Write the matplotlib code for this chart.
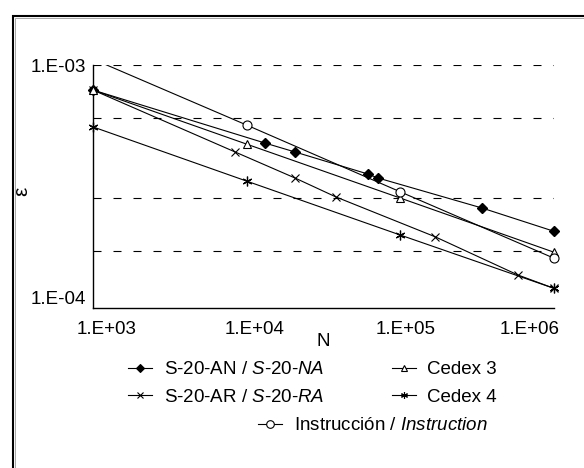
import matplotlib
matplotlib.use('Agg')
import matplotlib.pyplot as plt
import matplotlib.transforms as mtransforms
from matplotlib.lines import Line2D
from matplotlib.patches import Rectangle

plt.rcParams['font.family'] = ['Liberation Sans', 'DejaVu Sans']
plt.rcParams['mathtext.fontset'] = 'custom'
plt.rcParams['mathtext.rm'] = 'Liberation Sans'
plt.rcParams['mathtext.it'] = 'Liberation Sans:italic'

# values
an_N = [1e3, 13150, 20600, 61500, 71400, 339600, 1.0e6]
an_eps = [7.80e-4, 4.61e-4, 4.22e-4, 3.39e-4, 3.26e-4, 2.42e-4, 1.92e-4]

ar_N = [1e3, 8400, 20600, 38100, 168000, 582000, 1.0e6]
ar_eps = [7.80e-4, 4.22e-4, 3.26e-4, 2.70e-4, 1.82e-4, 1.245e-4, 1.09e-4]

c3_N = [1e3, 1e4, 1e5, 1e6]
c3_eps = [7.80e-4, 4.56e-4, 2.67e-4, 1.56e-4]

c4_N = [1e3, 1e4, 1e5, 1e6]
c4_eps = [5.41e-4, 3.16e-4, 1.85e-4, 1.09e-4]

ins_N = [1e3, 1e4, 1e5, 1e6]
ins_eps = [1.06e-3, 5.51e-4, 2.84e-4, 1.47e-4]

grid_levels = [1e-3, 5.91e-4, 2.67e-4, 1.58e-4]

x_ticks = [1e3, 1e4, 1e5, 1e6]
x_labels = ['1.E+03', '1.E+04', '1.E+05', '1.E+06']
y_ticks = [1e-3, 1e-4]
y_labels = ['1.E-03', '1.E-04']

labels = ['S-20-AN / $\\mathit{S}$-$\\mathit{20}$-$\\mathit{NA}$',
          'S-20-AR / $\\mathit{S}$-$\\mathit{20}$-$\\mathit{RA}$',
          'Cedex 3', 'Cedex 4',
          'Instrucción / $\\mathit{Instruction}$']

W, H = 584, 468
fig = plt.figure(figsize=(W / 100, H / 100), dpi=100)
ax = fig.add_axes([93 / W, 1 - 308 / H, (554 - 93) / W, (308 - 65) / H])
ax.set_xscale('log')
ax.set_yscale('log')
ax.set_xlim(1e3, 1e6)
ax.set_ylim(8.97e-5, 1e-3)

for g in grid_levels:
    ax.axhline(g, color='black', lw=0.8, ls=(0, (7.2, 10.8)), zorder=1)

lw = 0.8
ax.plot(an_N, an_eps, color='black', lw=lw, marker='D', ms=5, mfc='black', clip_on=False, zorder=3)
ax.plot(ar_N, ar_eps, color='black', lw=lw, marker='x', ms=6, mew=0.8, clip_on=False, zorder=3)
ax.plot(c3_N, c3_eps, color='black', lw=lw, marker='^', ms=6, mfc='white', mew=0.8, clip_on=False, zorder=3)
ax.plot(c4_N, c4_eps, color='black', lw=lw, marker=(6, 2, 0), ms=7, mew=0.9, clip_on=False, zorder=3)
ax.plot(ins_N, ins_eps, color='black', lw=lw, zorder=3)
ax.plot(ins_N[1:], ins_eps[1:], ls='none', marker='o', ms=6.5, mfc='white', mec='black', mew=0.8,
        clip_on=False, zorder=4)

ax.xaxis.set_major_locator(plt.FixedLocator(x_ticks))
ax.xaxis.set_minor_locator(plt.NullLocator())
ax.set_xticklabels(x_labels)
ax.yaxis.set_major_locator(plt.FixedLocator(y_ticks))
ax.yaxis.set_minor_locator(plt.NullLocator())
ax.set_yticklabels(y_labels)
ax.tick_params(axis='both', length=0, labelsize=13.5, colors='black')
ax.tick_params(axis='x', pad=9)
ax.tick_params(axis='y', pad=5)

# tick labels sit a little off their ticks in the original
x_shift = [14, 8, 5, -24]
for lab, dx in zip(ax.get_xticklabels(), x_shift):
    lab.set_transform(lab.get_transform() + mtransforms.ScaledTranslation(dx / 100, 0, fig.dpi_scale_trans))

for s in ['top', 'right']:
    ax.spines[s].set_visible(False)
for s in ['left', 'bottom']:
    ax.spines[s].set_linewidth(1.0)

ax.set_xlabel('N', fontsize=13.5, labelpad=-3)
ax.set_ylabel('ε', fontsize=15, va='center')
ax.yaxis.set_label_coords((22 - 93) / (554 - 93), 0.48)

def handle(marker, ms, mfc='black', mew=0.8):
    return Line2D([], [], color='black', lw=0.8, marker=marker, ms=ms, mfc=mfc, mec='black', mew=mew)

h_an = handle('D', 4)
h_ar = handle('x', 5)
h_c3 = handle('^', 5, mfc='white')
h_c4 = handle((6, 2, 0), 5)
h_ins = handle('o', 5.5, mfc='white')

fig.legend(handles=[h_an, h_ar, h_c3, h_c4], labels=[labels[0], labels[1], labels[2], labels[3]],
           ncol=2, loc='upper left', bbox_to_anchor=(128 / W, 1 - 361 / H), frameon=False,
           fontsize=13.5, handlelength=1.3, handletextpad=0.6, columnspacing=3.6,
           labelspacing=0.55, borderpad=0, borderaxespad=0)
fig.legend(handles=[h_ins], labels=[labels[4]], loc='upper left',
           bbox_to_anchor=(258 / W, 1 - 417 / H), frameon=False, fontsize=13.5,
           handlelength=1.3, handletextpad=0.6, borderpad=0, borderaxespad=0)

# outer frame, cut at right and bottom
fig.add_artist(Rectangle((12.5 / W, -0.1), 1.2, 1.1 - 16 / H, transform=fig.transFigure,
                         fill=False, lw=1.5, edgecolor='black'))
fig.add_artist(Rectangle((14.5 / W, -0.1), 1.2, 1.1 - 18 / H, transform=fig.transFigure,
                         fill=False, lw=0.6, edgecolor='#999999'))

fig.savefig('out.png', dpi=100)
